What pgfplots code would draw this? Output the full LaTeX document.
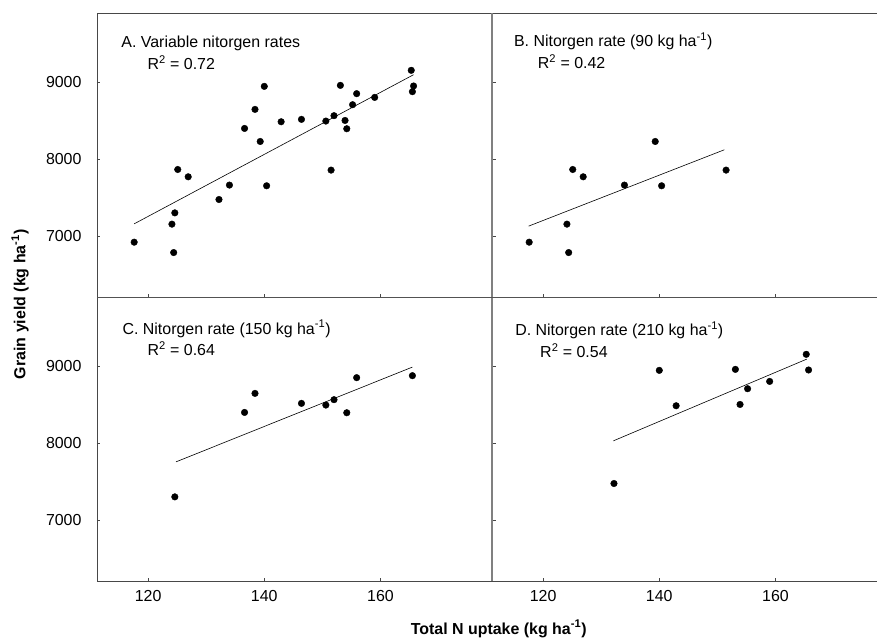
\documentclass[border=0pt]{standalone}
\usepackage{fontspec}
\setmainfont{Liberation Sans}
\usepackage{pgfplots}
\usepackage{pgfplotstable}
\pgfplotsset{compat=1.18}
\usepgfplotslibrary{groupplots}

% total N uptake vs grain yield
\pgfplotstableread{
x y
117.6 6918
124.4 6783
124.1 7153
124.6 7300
125.1 7865
126.9 7770
132.2 7474
134.0 7662
136.6 8400
138.4 8648
139.3 8230
140.0 8948
140.4 7653
142.9 8487
146.4 8518
150.6 8496
152.0 8566
151.5 7857
153.1 8961
153.9 8504
154.2 8396
155.2 8709
155.9 8853
159.0 8804
165.3 9157
165.7 8953
165.5 8879
}\dataA
\pgfplotstableread{
x y
117.6 6918
124.1 7153
124.4 6783
125.1 7865
126.9 7770
134.0 7662
139.3 8230
140.4 7653
151.5 7857
}\dataB
\pgfplotstableread{
x y
124.6 7300
136.6 8400
138.4 8648
146.4 8518
150.6 8496
152.0 8566
154.2 8396
155.9 8853
165.5 8879
}\dataC
\pgfplotstableread{
x y
132.2 7474
140.0 8948
142.9 8487
153.1 8961
153.9 8504
155.2 8709
159.0 8804
165.3 9157
165.7 8953
}\dataD

\newcommand{\lbl}{\fontsize{16}{19}\selectfont}

\begin{document}
\begin{tikzpicture}
\begin{groupplot}[
    group style={group size=2 by 2, horizontal sep=0pt, vertical sep=0pt,
                 xticklabels at=edge bottom, yticklabels at=edge left},
    scale only axis,
    height=284bp,
    xmin=111.2, ymin=6200, ymax=9900,
    xtick={120,140,160}, ytick={7000,8000,9000},
    tick pos=left, tick align=inside,
    major tick length=3.5bp,
    axis line style={draw=black!72, line width=0.9bp},
    tick style={draw=black!72, line width=0.6bp},
    ticklabel style={font=\lbl},
    yticklabel style={xshift=-12bp},
    xticklabel style={yshift=-6bp},
    /pgf/number format/assume math mode=true,
    /pgf/number format/1000 sep={},
    clip=false,
]
\nextgroupplot[width=395bp, xmax=179.2]
\addplot[only marks, mark=*, mark size=3.3bp, black] table {\dataA};
\addplot[black, line width=0.6bp] coordinates {(117.6,7157) (165.7,9100)};
\node[anchor=base west, font=\lbl] at (axis cs:114.8,9457) {A. Variable nitorgen rates};
\node[anchor=base west, font=\lbl] at (axis cs:119.3,9170) {R\textsuperscript{2} = 0.72};

\nextgroupplot[width=390bp, xmax=178.34]
\addplot[only marks, mark=*, mark size=3.3bp, black] table {\dataB};
\addplot[black, line width=0.6bp] coordinates {(117.5,7127) (151.2,8122)};
\node[anchor=base west, font=\lbl] at (axis cs:114.4,9464) {B. Nitorgen rate (90 kg ha\textsuperscript{-1})};
\node[anchor=base west, font=\lbl] at (axis cs:118.5,9183) {R\textsuperscript{2} = 0.42};

\nextgroupplot[width=395bp, xmax=179.2]
\addplot[only marks, mark=*, mark size=3.3bp, black] table {\dataC};
\addplot[black, line width=0.6bp] coordinates {(124.8,7756) (165.5,8991)};
\node[anchor=base west, font=\lbl] at (axis cs:115.0,9421) {C. Nitorgen rate (150 kg ha\textsuperscript{-1})};
\node[anchor=base west, font=\lbl] at (axis cs:119.3,9138) {R\textsuperscript{2} = 0.64};

\nextgroupplot[width=390bp, xmax=178.34]
\addplot[only marks, mark=*, mark size=3.3bp, black] table {\dataD};
\addplot[black, line width=0.6bp] coordinates {(132.1,8030) (165.4,9095)};
\node[anchor=base west, font=\lbl] at (axis cs:114.6,9399) {D. Nitorgen rate (210 kg ha\textsuperscript{-1})};
\node[anchor=base west, font=\lbl] at (axis cs:118.9,9117) {R\textsuperscript{2} = 0.54};
\end{groupplot}

% panel dividers
\draw[black!50, line width=2bp] (group c2r1.north west) -- (group c2r2.south west);
\draw[black!68, line width=1.3bp] (group c1r2.north west) -- ([xshift=390bp]group c2r2.north west);

% shared axis labels
\node[rotate=90, font=\lbl\bfseries] at ([xshift=-77bp,yshift=-7bp]group c1r1.south west)
  {Grain yield (kg ha\textsuperscript{-1})};
\node[font=\lbl\bfseries] at ([xshift=6.7bp,yshift=-47.5bp]group c2r2.south west)
  {Total N uptake (kg ha\textsuperscript{-1})};

\pgfresetboundingbox
\path ([xshift=-97bp,yshift=13.3bp]group c1r1.north west)
  rectangle ([xshift=385bp,yshift=-58.5bp]group c2r2.south west);
\end{tikzpicture}
\end{document}
